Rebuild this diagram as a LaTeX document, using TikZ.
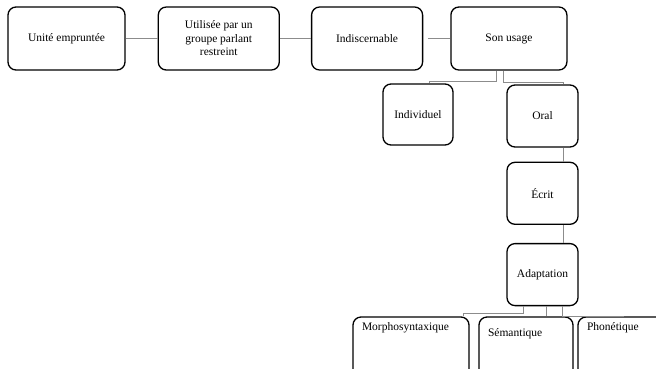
\documentclass[tikz,border=0pt]{standalone}
\usepackage{fontspec}
\setmainfont{Liberation Serif}
\usetikzlibrary{positioning}

\begin{document}
\begin{tikzpicture}
        [
            x = 1pt, y = 1pt,
            box/.style = {draw, line width=1.3pt, rounded corners=8pt, align=center,
                font=\fontsize{11.5}{13.5}\selectfont, minimum height=62pt, inner xsep=4pt, inner ysep=4pt},
            leafbox/.style = {box, align=left, inner xsep=9pt, text height=9pt, text depth=44pt},
            link/.style = {draw=black!45, line width=0.8pt},
        ]
        \useasboundingbox (0,0) rectangle (656,-368);
        \fill[white] (0,0) rectangle (656,-368);
        \clip (0,0) rectangle (656,-368);

        \node[box, minimum width=117pt, minimum height=63pt] (unite) at (66.5,-38.5) {Unité empruntée};
        \node[box, minimum width=121pt, minimum height=63pt, right=32pt of unite] (utilisee)
            {Utilisée par un\\groupe parlant\\restreint};
        \node[box, minimum width=111pt, minimum height=63pt, right=31pt of utilisee] (indisc) {Indiscernable};
        \node[box, minimum width=116pt, minimum height=63pt, right=27pt of indisc] (usage) {Son usage};

        \node[box, minimum width=70pt, minimum height=61pt] (indiv) at (418,-114.5) {Individuel};
        \node[box, minimum width=71pt] (oral) at (542.5,-116) {Oral};
        \node[box, minimum width=71pt, below=14pt of oral] (ecrit) {Écrit};
        \node[box, minimum width=71pt, below=18pt of ecrit] (adapt) {Adaptation};

        \node[leafbox, text width=98pt] (morpho) at (411,-348) {Morphosyntaxique};
        \node[leafbox, text width=76pt, text height=15pt, text depth=38pt] (seman) at (526,-348) {Sémantique};
        \node[leafbox, text width=112pt] (phon) at (643,-348) {Phonétique};

        \draw[link] (unite) -- (utilisee);
        \draw[link] (utilisee) -- (indisc);
        \draw[link, shorten <=5pt] (indisc) -- (usage);

        \draw[link] ([xshift=-13pt]usage.south) -- ++(0,-11) -| ([xshift=11pt]indiv.north);
        \draw[link] ([xshift=-6pt]usage.south) -- ++(0,-12) -| ([xshift=20.5pt]oral.north);
        \draw[link] ([xshift=20.5pt]oral.south) -- ([xshift=20.5pt]ecrit.north);
        \draw[link] ([xshift=20.5pt]ecrit.south) -- ([xshift=20.5pt]adapt.north);

        \draw[link] ([xshift=-19.5pt]adapt.south) -- ++(0,-7) -| ([xshift=52pt]morpho.north);
        \draw[link] ([xshift=3.5pt]adapt.south) -- ([xshift=20pt]seman.north);
        \draw[link] ([xshift=19.5pt]adapt.south) -- ++(0,-10) -| ([xshift=-20pt]phon.north);
    \end{tikzpicture}
\end{document}
